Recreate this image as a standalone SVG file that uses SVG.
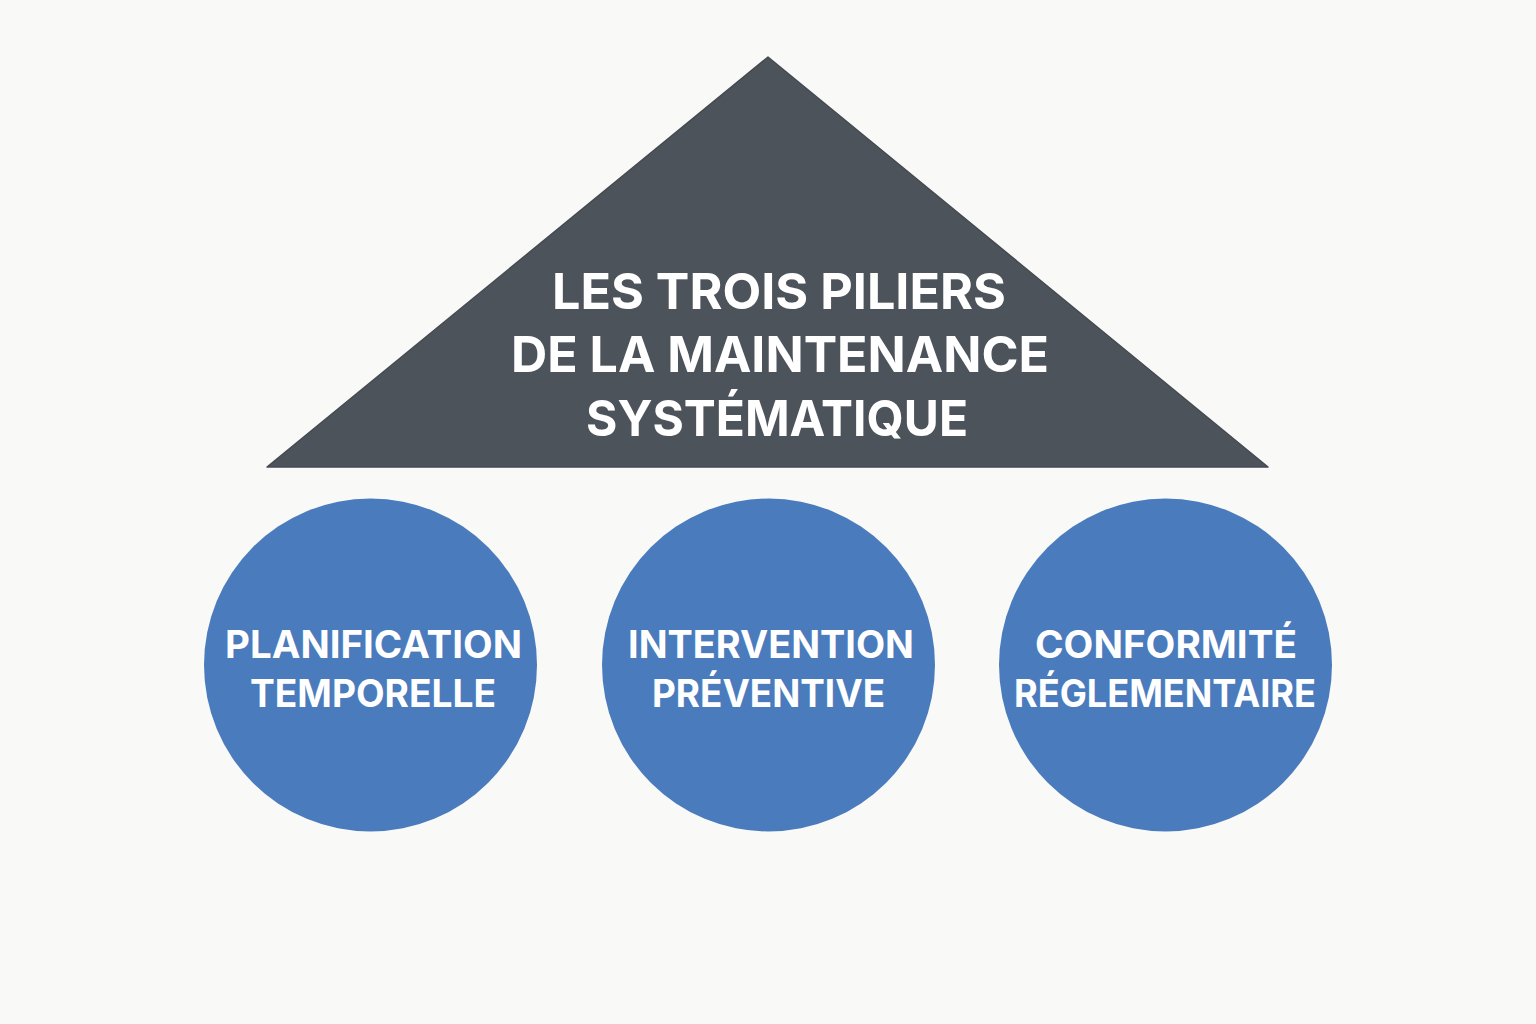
<svg xmlns="http://www.w3.org/2000/svg" width="1536" height="1024" viewBox="0 0 1536 1024">
  <style>
    .t { font-family: Inter, "Open Sans", "Liberation Sans", sans-serif; font-weight: 700; fill: #ffffff; text-anchor: middle; }
    .title { font-size: 50px; }
    .lbl { font-size: 38px; }
    .pillar { fill: #4a7bbd; }
  </style>
  <rect width="1536" height="1024" fill="#f9f9f7"/>
  <g id="roof">
    <polygon points="768,57 1268,467 267,467" fill="#4d535a" stroke="#454a51" stroke-width="1.5" stroke-linejoin="round"/>
    <text class="t title" x="779" y="309" textLength="454" lengthAdjust="spacingAndGlyphs">LES TROIS PILIERS</text>
    <text class="t title" x="780" y="372" textLength="538" lengthAdjust="spacingAndGlyphs">DE LA MAINTENANCE</text>
    <text class="t title" x="777" y="436" textLength="382" lengthAdjust="spacingAndGlyphs">SYSTÉMATIQUE</text>
  </g>
  <g id="connectors"></g>
  <g id="pillar-planification">
    <circle class="pillar" cx="370.5" cy="665" r="166.5"/>
    <text class="t lbl" x="373.5" y="658" textLength="297" lengthAdjust="spacingAndGlyphs">PLANIFICATION</text>
    <text class="t lbl" x="373" y="707" textLength="246" lengthAdjust="spacingAndGlyphs">TEMPORELLE</text>
  </g>
  <g id="pillar-intervention">
    <circle class="pillar" cx="768.5" cy="665" r="166.5"/>
    <text class="t lbl" x="771" y="658" textLength="286" lengthAdjust="spacingAndGlyphs">INTERVENTION</text>
    <text class="t lbl" x="768.5" y="707" textLength="233" lengthAdjust="spacingAndGlyphs">PRÉVENTIVE</text>
  </g>
  <g id="pillar-conformite">
    <circle class="pillar" cx="1165.5" cy="665" r="166.5"/>
    <text class="t lbl" x="1166" y="658" textLength="262" lengthAdjust="spacingAndGlyphs">CONFORMITÉ</text>
    <text class="t lbl" x="1165" y="707" textLength="302" lengthAdjust="spacingAndGlyphs">RÉGLEMENTAIRE</text>
  </g>
</svg>
